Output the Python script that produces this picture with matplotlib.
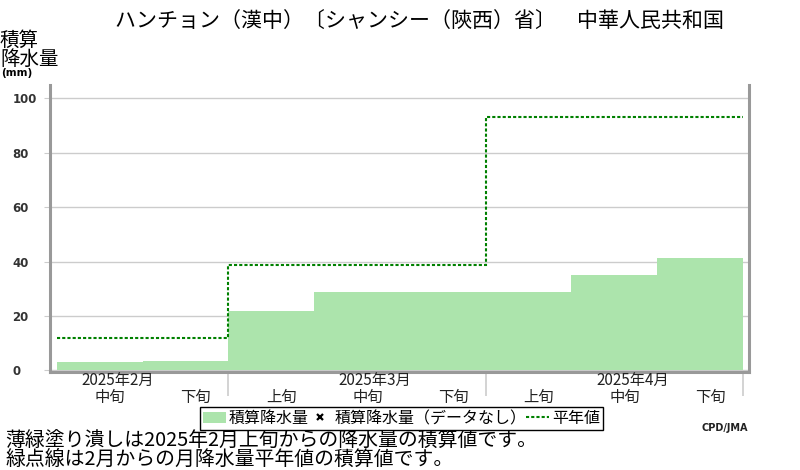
import matplotlib
matplotlib.use('Agg')
import matplotlib.pyplot as plt
from matplotlib.patches import Patch
from matplotlib.lines import Line2D
import numpy as np

plt.rcParams['font.family'] = ['Noto Sans CJK JP', 'DejaVu Sans']

# Données (mm), par décade
decades = ['中旬', '下旬', '上旬', '中旬', '下旬', '上旬', '中旬', '下旬']
precip_cumul = [3.2, 3.4, 21.8, 28.7, 28.7, 28.7, 35.1, 41.3]
# Normale mensuelle cumulée (pointillés verts)
mois = ['2025年2月', '2025年3月', '2025年4月']
mois_milieu = [0, 3, 6]            # décade "中旬" de chaque mois
mois_debut = [0, 2, 5, 8]          # bornes des mois en décades
normale_cumul = [11.8, 38.8, 93.2]
y_ticks = [0, 20, 40, 60, 80, 100]

titre = 'ハンチョン（漢中）〔シャンシー（陝西）省〕　中華人民共和国'
notes = ('薄緑塗り潰しは2025年2月上旬からの降水量の積算値です。\n'
         '緑点線は2月からの月降水量平年値の積算値です。')

vert_clair = '#ace4ac'
vert = '#008000'
gris = '#999999'

fig = plt.figure(figsize=(8, 4.7), dpi=100)
ax = fig.add_axes([50/800, 1-372/470, 699/800, 287/470])

# Barres d'accumulation (une par décade)
ax.bar(np.arange(len(precip_cumul)), precip_cumul, width=1, align='edge',
       color=vert_clair, linewidth=0, zorder=2)
# Normale en escalier
ax.stairs(normale_cumul, mois_debut, baseline=None, color=vert,
          linewidth=1.5, linestyle=(0, (1.5, 1)), zorder=3)

ax.set_xlim(-0.08, 8.07)
ax.set_ylim(-0.62, 104.9)

# Axes et grille
ax.spines['top'].set_visible(False)
for s in ['left', 'right', 'bottom']:
    ax.spines[s].set_color(gris)
    ax.spines[s].set_linewidth(2.2)
ax.set_axisbelow(True)
ax.yaxis.grid(True, color='#cccccc', linewidth=1)
ax.set_yticks(y_ticks)
ax.set_yticklabels([str(v) for v in y_ticks], family='DejaVu Sans',
                   fontweight='bold', fontsize=8.5, color='#333333', ha='left')
ax.tick_params(axis='y', length=4, color='#cccccc', pad=23)

# Séparateurs de mois sous l'axe
ax.set_xticks(mois_debut[1:])
ax.set_xticklabels([])
ax.tick_params(axis='x', length=17, width=1.2, color='#cccccc')

# Libellés décades et mois
trans = ax.get_xaxis_transform()
for i, d in enumerate(decades):
    ax.text(i + 0.62, -0.087, d, transform=trans, ha='center', va='center',
            fontsize=11, color='#222222')
for m, pos in zip(mois, mois_milieu):
    ax.text(pos + 0.71, -0.03, m, transform=trans, ha='center', va='center',
            fontsize=11, color='#222222')

# Titre et libellé de l'axe
fig.text(419/800, 1-22/470, titre, ha='center', va='center', fontsize=15.1)
fig.text(0, 1-40/470, '積算', ha='left', va='center', fontsize=14)
fig.text(0, 1-59/470, '降水量', ha='left', va='center', fontsize=14)
fig.text(1/800, 1-73/470, '(mm)', ha='left', va='center', fontsize=7.5,
         family='DejaVu Sans', fontweight='bold')

# Légende
handles = [Patch(facecolor=vert_clair, edgecolor='none'),
           Line2D([], [], marker='x', linestyle='none', color='black',
                  markersize=5, markeredgewidth=1.6),
           Line2D([], [], color=vert, linewidth=1.5, linestyle=(0, (1.5, 1)))]
labels = ['積算降水量', '積算降水量（データなし）', '平年値']
leg = fig.legend(handles, labels, loc='upper left',
                 bbox_to_anchor=(200/800, 1-407/470), ncol=3, fontsize=11.5,
                 frameon=True, fancybox=False, framealpha=1, borderpad=0.2,
                 handlelength=1.4, handleheight=0.75, handletextpad=0.2,
                 columnspacing=0.0, borderaxespad=0)
leg.get_frame().set_edgecolor('black')
leg.get_frame().set_linewidth(1)

fig.text(748/800, 1-428/470, 'CPD/JMA', ha='right', va='center', fontsize=7,
         family='DejaVu Sans', fontweight='bold', color='#222222')

# Notes en bas (un seul texte sur deux lignes)
fig.text(5/800, 1-450/470, notes, ha='left', va='center', fontsize=14.3,
         linespacing=0.8)

fig.savefig('out.png', dpi=100)
